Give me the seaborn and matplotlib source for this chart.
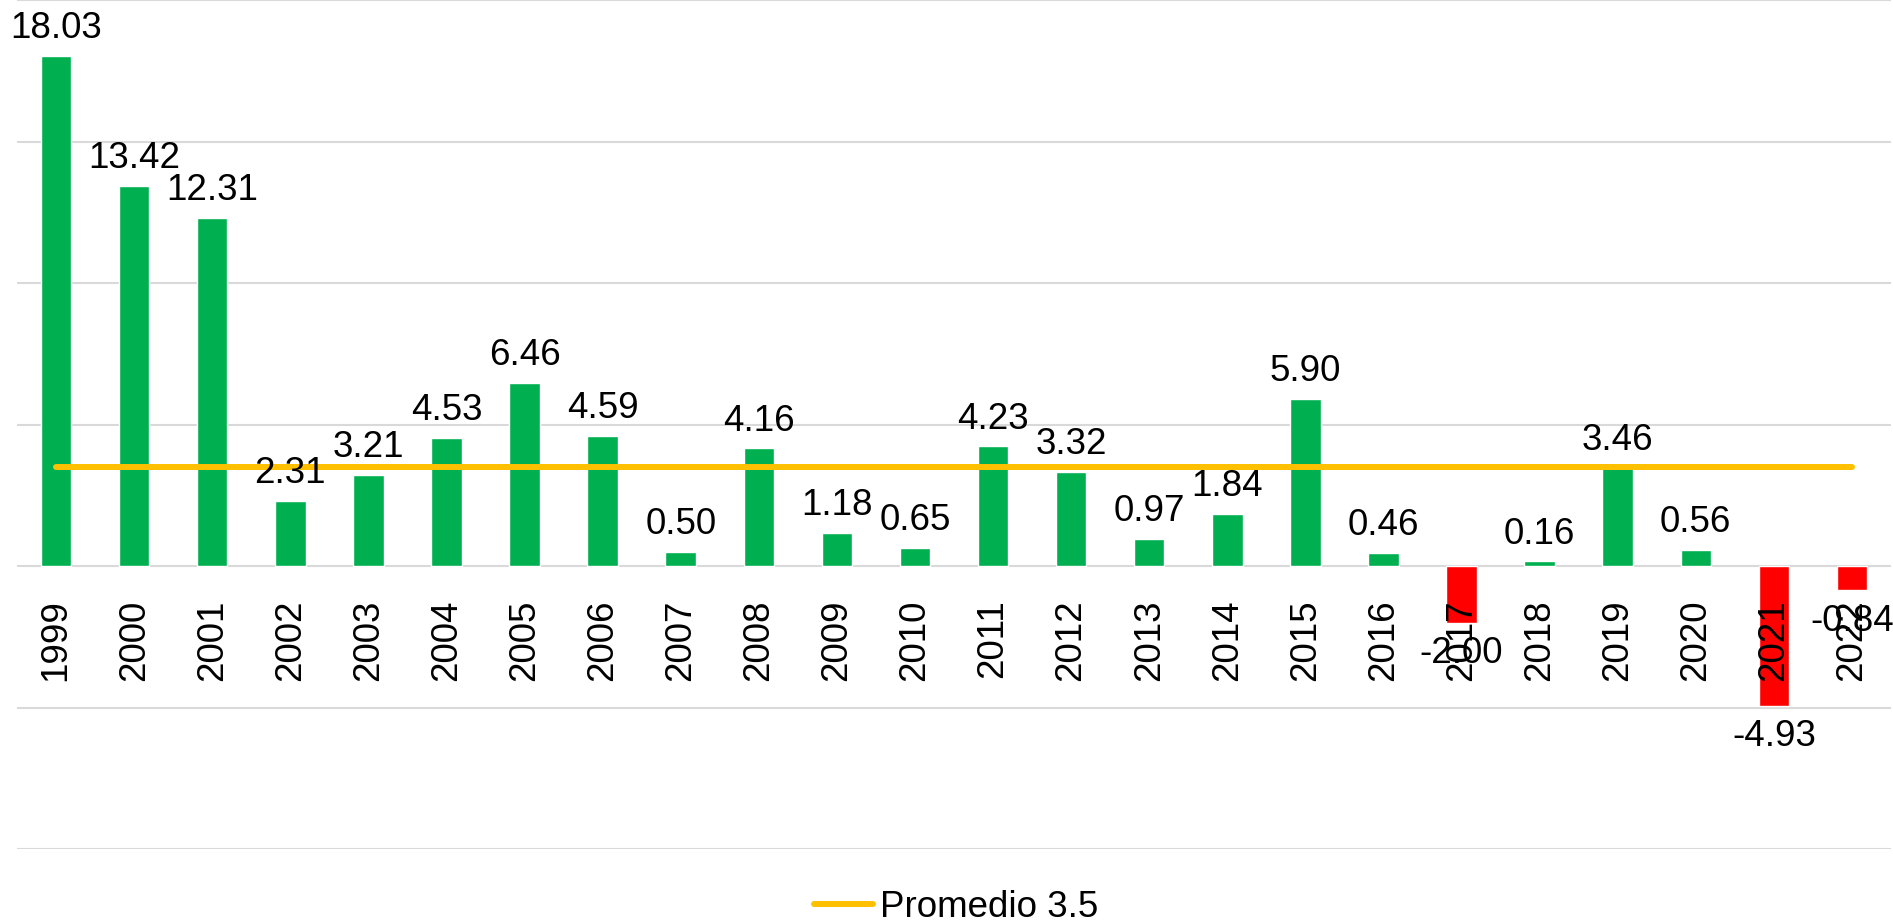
import numpy as np
import pandas as pd
import matplotlib
matplotlib.use("Agg")
import matplotlib.pyplot as plt
import seaborn as sns

sns.set_theme(style="white")
plt.rcParams['font.family'] = ['Liberation Sans', 'DejaVu Sans']

# data
years = ["1999", "2000", "2001", "2002", "2003", "2004", "2005", "2006",
         "2007", "2008", "2009", "2010", "2011", "2012", "2013", "2014",
         "2015", "2016", "2017", "2018", "2019", "2020", "2021", "2022"]
values = [18.03, 13.42, 12.31, 2.31, 3.21, 4.53, 6.46, 4.59,
          0.50, 4.16, 1.18, 0.65, 4.23, 3.32, 0.97, 1.84,
          5.90, 0.46, -2.00, 0.16, 3.46, 0.56, -4.93, -0.84]
promedio = 3.5
grid_values = [-10, -5, 0, 5, 10, 15, 20]

df = pd.DataFrame({"year": years, "value": values})
df["sign"] = np.where(df["value"] >= 0, "pos", "neg")

fig = plt.figure(figsize=(18.93, 9.24), dpi=100)
ax = fig.add_axes([17 / 1893, 1 - 849 / 924, 1874 / 1893, 849 / 924])

# light gridlines behind everything, tick labels stay on top of bars
for g in grid_values:
    ax.axhline(g, color="#D9D9D9", lw=1.5, zorder=0)

sns.barplot(data=df, x="year", y="value", hue="sign",
            palette={"pos": "#00B050", "neg": "#FF0000"}, saturation=1,
            width=0.39, legend=False, ax=ax, zorder=1)

sns.lineplot(x=np.arange(len(years)), y=[promedio] * len(years),
             color="#FFC000", lw=4.3, ax=ax, zorder=3,
             label=f"Promedio {promedio}")
ax.lines[-1].set_solid_capstyle("round")

# value labels
for i, v in enumerate(values):
    if v >= 0:
        ax.annotate(f"{v:.2f}", (i, v), xytext=(0, 7), textcoords="offset points",
                    ha="center", va="bottom", fontsize=26.5, color="black", zorder=4)
    else:
        ax.annotate(f"{v:.2f}", (i, v), xytext=(0, -10), textcoords="offset points",
                    ha="center", va="top", fontsize=26.5, color="black", zorder=4)

ax.set_axisbelow(False)
ax.set_ylim(-10, 20)
ax.set_xlim(-0.5, len(years) - 0.5)
ax.set_yticks(grid_values)
ax.set_yticklabels([])
ax.set_xlabel("")
ax.set_ylabel("")
for s in ["top", "right", "left"]:
    ax.spines[s].set_visible(False)
ax.spines["bottom"].set_position(("data", 0))
ax.spines["bottom"].set_visible(False)
ax.tick_params(axis="x", length=0, pad=24, labelsize=26.5, rotation=90,
               labelcolor="black")
ax.tick_params(axis="y", length=0)
ax.grid(False)

ax.legend_.remove()
handles, labels = ax.get_legend_handles_labels()
leg = fig.legend(handles, labels, loc="lower center", bbox_to_anchor=(0.505, -0.005),
                 frameon=False, fontsize=26.5, handlelength=1.6, handletextpad=0.2,
                 borderaxespad=0, borderpad=0.1)
for t in leg.get_texts():
    t.set_color("black")

fig.savefig("out.png", dpi=100)
